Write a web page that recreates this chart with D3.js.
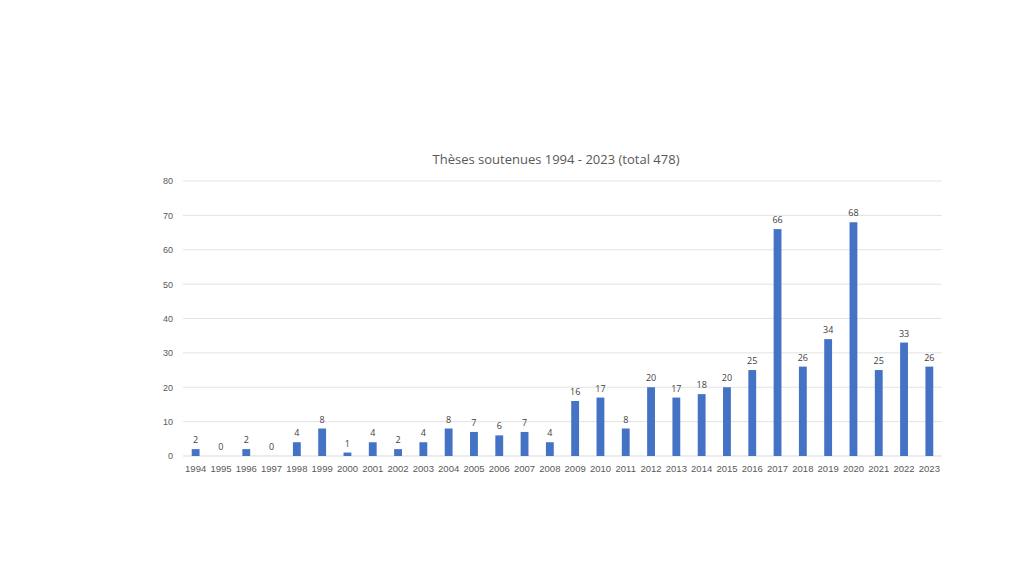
<!DOCTYPE html>
<html>
<head>
<meta charset="utf-8">
<script src="https://cdn.jsdelivr.net/npm/d3@7"></script>
<style>
  body { margin: 0; background: #fff; }
  svg { display: block; font-family: "Open Sans", "Noto Sans", sans-serif; }
</style>
</head>
<body>
<div id="chart"></div>
<script>
// Thèses soutenues par année
const years = d3.range(1994, 2024).map(String);
const theses = [2, 0, 2, 0, 4, 8, 1, 4, 2, 4, 8, 7, 6, 7, 4, 16, 17, 8, 20, 17, 18, 20, 25, 66, 26, 34, 68, 25, 33, 26];
const yTicks = [0, 10, 20, 30, 40, 50, 60, 70, 80];
const title = "Thèses soutenues 1994 - 2023 (total 478)";

const width = 1024, height = 576;
const margin = {left: 183, right: 82, top: 181, bottom: 120};

const svg = d3.select("#chart").append("svg").attr("width", width).attr("height", height);

const x = d3.scaleBand().domain(years).range([margin.left, width - margin.right]).paddingInner(0.69).paddingOuter(0.345);
const y = d3.scaleLinear().domain([0, 80]).range([height - margin.bottom, margin.top]);

// grid lines
svg.append("g").selectAll("line")
  .data(yTicks)
  .join("line")
  .attr("x1", margin.left).attr("x2", width - margin.right)
  .attr("y1", d => y(d)).attr("y2", d => y(d))
  .attr("stroke", d => d === 0 ? "#d9d9d9" : "#e3e3e3")
  .attr("stroke-width", 1);

// y axis labels
const yAxis = d3.axisLeft(y).tickValues(yTicks).tickSize(0).tickPadding(10);
svg.append("g").attr("transform", `translate(${margin.left},0)`).call(yAxis)
  .call(g => g.select(".domain").remove())
  .selectAll("text").attr("fill", "#595959").style("font-size", "9px");

// x axis labels
const xAxis = d3.axisBottom(x).tickSize(0).tickPadding(9);
svg.append("g").attr("transform", `translate(0,${y(0)})`).call(xAxis)
  .call(g => g.select(".domain").remove())
  .selectAll("text").attr("fill", "#595959").style("font-size", "9.5px");

// bars
svg.append("g").selectAll("rect")
  .data(theses)
  .join("rect")
  .attr("x", (d, i) => x(years[i]))
  .attr("y", d => y(d))
  .attr("width", x.bandwidth())
  .attr("height", d => y(0) - y(d))
  .attr("fill", "#4472C4");

// value labels
svg.append("g").selectAll("text")
  .data(theses)
  .join("text")
  .attr("x", (d, i) => x(years[i]) + x.bandwidth() / 2)
  .attr("y", d => y(d) - 6)
  .attr("text-anchor", "middle")
  .attr("fill", "#404040")
  .style("font-size", "9px")
  .text(d => d);

// title
svg.append("text")
  .attr("x", 556).attr("y", 164)
  .attr("text-anchor", "middle")
  .attr("fill", "#595959")
  .style("font-size", "13px")
  .text(title);
</script>
</body>
</html>
